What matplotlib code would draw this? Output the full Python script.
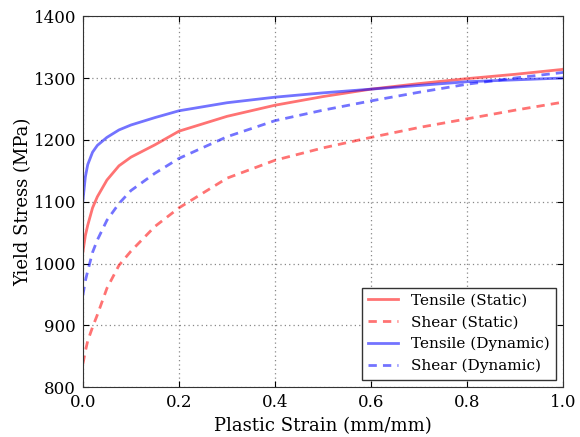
import numpy as np
import matplotlib
matplotlib.use("Agg")
import matplotlib.pyplot as plt

plt.rcParams['font.family'] = ['DejaVu Serif']

strain = [0.0, 0.005, 0.01, 0.02, 0.03, 0.05, 0.075, 0.1, 0.15, 0.2, 0.3, 0.4, 0.5, 0.6, 0.7, 0.8, 0.9, 1.0]
tensile_static = [1019, 1045, 1062, 1090, 1108, 1135, 1158, 1172, 1192, 1214, 1238, 1256, 1270, 1282, 1291, 1299, 1306, 1314]
shear_static = [838, 858, 875, 897, 917, 960, 997, 1020, 1060, 1090, 1138, 1167, 1187, 1204, 1220, 1234, 1248, 1261]
tensile_dynamic = [1102, 1140, 1160, 1180, 1191, 1204, 1216, 1224, 1236, 1247, 1260, 1269, 1276, 1282, 1288, 1294, 1297, 1300]
shear_dynamic = [949, 972, 988, 1018, 1038, 1070, 1097, 1118, 1146, 1170, 1205, 1231, 1248, 1263, 1277, 1290, 1300, 1309]

fig, ax = plt.subplots(figsize=(5.8, 4.37), dpi=100)
fig.subplots_adjust(left=0.143, right=0.971, top=0.963, bottom=0.114)

style = dict(alpha=0.55, lw=2)
dash = (3, 2.2)
ax.plot(strain, tensile_static, color='red', label='Tensile (Static)', **style)
ax.plot(strain, shear_static, color='red', ls='--', dashes=dash, label='Shear (Static)', **style)
ax.plot(strain, tensile_dynamic, color='blue', label='Tensile (Dynamic)', **style)
ax.plot(strain, shear_dynamic, color='blue', ls='--', dashes=dash, label='Shear (Dynamic)', **style)

ax.set_xlim(0, 1.0)
ax.set_ylim(800, 1400)
ax.set_xticks(np.arange(0, 1.01, 0.2))
ax.set_xticklabels(['0.0', '0.2', '0.4', '0.6', '0.8', '1.0'])
ax.set_yticks(np.arange(800, 1401, 100))
ax.tick_params(direction='in', top=True, right=True, labelsize=12, length=4, pad=5)
ax.grid(True, ls=(0, (1, 2.5)), color='#888888', lw=0.9)
for s in ax.spines.values():
    s.set_color('#333333')
ax.set_xlabel('Plastic Strain (mm/mm)', fontsize=13)
ax.set_ylabel('Yield Stress (MPa)', fontsize=13, labelpad=1)
leg = ax.legend(loc='lower right', fontsize=11, fancybox=False, framealpha=1,
                edgecolor='#333333', handlelength=2.0, borderaxespad=0.5)
fig.savefig('out.png')
